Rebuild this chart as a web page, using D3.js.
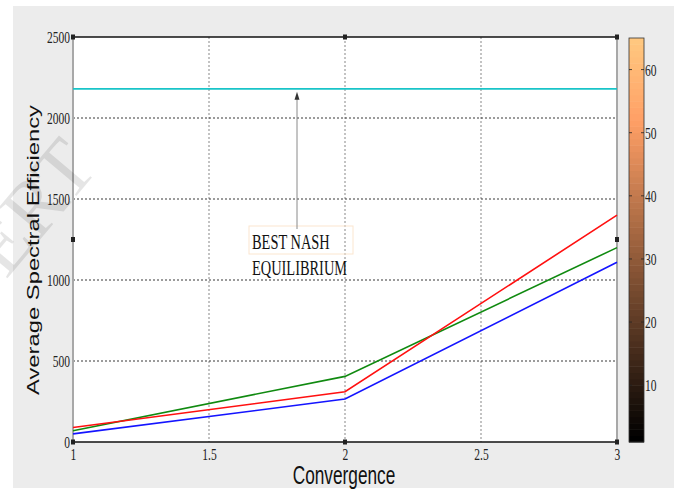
<!DOCTYPE html>
<html>
<head>
<meta charset="utf-8">
<script src="https://cdn.jsdelivr.net/npm/d3@7"></script>
<style>
  html, body { margin: 0; padding: 0; background: #ffffff; }
  svg { display: block; }
</style>
</head>
<body>
<svg id="chart" width="678" height="489"></svg>
<script>
// Convergence steps and average spectral efficiency per scheme
const convergence = [1, 2, 3];
const redSeries   = [90, 310, 1400];
const greenSeries = [70, 405, 1200];
const blueSeries  = [50, 265, 1110];
const nashLevel   = 2180;

const xTicks = [1, 1.5, 2, 2.5, 3];
const yTicks = [0, 500, 1000, 1500, 2000, 2500];
const colorbarTicks = [10, 20, 30, 40, 50, 60];

const svg = d3.select("#chart");
const plot = { left: 73, right: 617, top: 37, bottom: 442 };
const condense = 0.72;

// figure background
svg.append("rect").attr("x", 13).attr("y", 6).attr("width", 661).attr("height", 482)
  .attr("fill", "#ececec");

const x = d3.scaleLinear().domain([1, 3]).range([plot.left, plot.right]);
const y = d3.scaleLinear().domain([0, 2500]).range([plot.bottom, plot.top]);

// axes area
svg.append("rect").attr("x", plot.left).attr("y", plot.top)
  .attr("width", plot.right - plot.left).attr("height", plot.bottom - plot.top)
  .attr("fill", "#ffffff");

// grid
const grid = svg.append("g");
grid.selectAll("line.v").data(xTicks.filter(d => d > 1 && d < 3)).join("line")
  .attr("x1", d => x(d)).attr("x2", d => x(d))
  .attr("y1", plot.top).attr("y2", plot.bottom)
  .attr("stroke", "#b0b0b0").attr("stroke-width", 1.5).attr("stroke-dasharray", "2,2");
grid.selectAll("line.h").data(yTicks.filter(d => d > 0 && d < 2500)).join("line")
  .attr("x1", plot.left).attr("x2", plot.right)
  .attr("y1", d => y(d)).attr("y2", d => y(d))
  .attr("stroke", "#222").attr("stroke-width", 0.9).attr("stroke-dasharray", "2,2");

// axis frame
svg.append("line").attr("x1", plot.left).attr("x2", plot.right).attr("y1", plot.top).attr("y2", plot.top)
  .attr("stroke", "#111").attr("stroke-width", 1.5);
svg.append("line").attr("x1", plot.left).attr("x2", plot.right).attr("y1", plot.bottom).attr("y2", plot.bottom)
  .attr("stroke", "#111").attr("stroke-width", 1.5);
svg.append("line").attr("x1", plot.left).attr("x2", plot.left).attr("y1", plot.top).attr("y2", plot.bottom)
  .attr("stroke", "#a8a8a8").attr("stroke-width", 2);
svg.append("line").attr("x1", plot.right).attr("x2", plot.right).attr("y1", plot.top).attr("y2", plot.bottom)
  .attr("stroke", "#a8a8a8").attr("stroke-width", 2);

// tick labels via d3 axes
const serif = "Liberation Serif, Times New Roman, serif";
const yAxis = svg.append("g").attr("transform", `translate(${plot.left},0)`)
  .call(d3.axisLeft(y).tickValues(yTicks).tickSize(0).tickFormat(d3.format("d")));
yAxis.select(".domain").remove();
yAxis.selectAll("text")
  .attr("font-family", serif).attr("font-size", 16).attr("fill", "#222")
  .attr("x", -3 / condense).attr("dy", "0.33em")
  .attr("transform", `scale(${condense},1)`);

const xAxis = svg.append("g").attr("transform", `translate(0,${plot.bottom})`)
  .call(d3.axisBottom(x).tickValues(xTicks).tickSize(0).tickFormat(d3.format("")));
xAxis.select(".domain").remove();
xAxis.selectAll(".tick").each(function () {
  const t = d3.select(this);
  const px = +t.attr("transform").match(/translate\(([-\d.]+)/)[1];
  t.attr("transform", `translate(${px},0) scale(${condense},1)`);
});
xAxis.selectAll("text")
  .attr("font-family", serif).attr("font-size", 16).attr("fill", "#222")
  .attr("y", 18).attr("dy", 0);

// selection handles on the axes box
const handles = [
  [plot.left, plot.top], [x(2), plot.top], [plot.right, plot.top],
  [plot.left, (plot.top + plot.bottom) / 2], [plot.right, (plot.top + plot.bottom) / 2],
  [plot.left, plot.bottom], [x(2), plot.bottom], [plot.right, plot.bottom]
];
svg.selectAll("rect.handle").data(handles).join("rect")
  .attr("x", d => d[0] - 2).attr("y", d => d[1] - 2.5)
  .attr("width", 4).attr("height", 5).attr("fill", "#222");

// best Nash equilibrium level
svg.append("line")
  .attr("x1", x(1)).attr("x2", x(3)).attr("y1", y(nashLevel)).attr("y2", y(nashLevel))
  .attr("stroke", "#19c4c8").attr("stroke-width", 1.6);

// series lines
const line = d3.line().x((d, i) => x(convergence[i])).y(d => y(d));
[[greenSeries, "#108a10"], [redSeries, "#ff1010"], [blueSeries, "#1414ff"]].forEach(([s, c]) => {
  svg.append("path").datum(s).attr("d", line)
    .attr("fill", "none").attr("stroke", c).attr("stroke-width", 1.6);
});

// annotation with arrow
const arrowX = 297;
svg.append("rect").attr("x", 249).attr("y", 226).attr("width", 104).attr("height", 28)
  .attr("fill", "none").attr("stroke", "#fbe6cf").attr("stroke-width", 1);
svg.append("line").attr("x1", arrowX).attr("x2", arrowX).attr("y1", 229).attr("y2", y(nashLevel) + 8)
  .attr("stroke", "#8a8a8a").attr("stroke-width", 1);
svg.append("path")
  .attr("d", `M${arrowX},${y(nashLevel) + 3} L${arrowX - 2.5},${y(nashLevel) + 11} L${arrowX + 2.5},${y(nashLevel) + 11} Z`)
  .attr("fill", "#333");
const noteLines = ["BEST NASH", "EQUILIBRIUM"];
svg.selectAll("text.note").data(noteLines).join("text")
  .attr("transform", (d, i) => `translate(252,${249 + i * 26}) scale(0.72,1)`)
  .attr("font-family", serif).attr("font-size", 20).attr("fill", "#111")
  .text(d => d);

// axis titles
svg.append("text")
  .attr("transform", `translate(344,484) scale(0.69,1)`)
  .attr("text-anchor", "middle")
  .attr("font-family", "Liberation Sans, Arial, sans-serif").attr("font-size", 25).attr("fill", "#111")
  .text("Convergence");
svg.append("text")
  .attr("transform", `translate(39,250) scale(0.72,1) rotate(-90)`)
  .attr("text-anchor", "middle")
  .attr("font-family", "Liberation Sans, Arial, sans-serif").attr("font-size", 22).attr("fill", "#111")
  .attr("textLength", 290).attr("lengthAdjust", "spacingAndGlyphs")
  .text("Average Spectral Efficiency");

// copper colorbar
const cb = { x: 629, w: 15, top: 38, bottom: 442 };
const cy = d3.scaleLinear().domain([1, 65]).range([cb.bottom, cb.top]);
const copper = t => `rgb(${Math.round(255 * Math.min(1, 1.25 * t))},${Math.round(255 * 0.7812 * t)},${Math.round(255 * 0.4975 * t)})`;
const levels = d3.range(64);
svg.selectAll("rect.cb").data(levels).join("rect")
  .attr("x", cb.x).attr("width", cb.w)
  .attr("y", d => cy(d + 2)).attr("height", d => cy(d + 1) - cy(d + 2) + 0.5)
  .attr("fill", d => copper(d / 63));
svg.append("rect").attr("x", cb.x).attr("y", cb.top).attr("width", cb.w).attr("height", cb.bottom - cb.top)
  .attr("fill", "none").attr("stroke", "#333").attr("stroke-width", 0.8);
const cbTicks = svg.append("g");
cbTicks.selectAll("line.l").data(colorbarTicks).join("line")
  .attr("x1", cb.x).attr("x2", cb.x + 3).attr("y1", d => cy(d)).attr("y2", d => cy(d))
  .attr("stroke", "#222").attr("stroke-width", 0.8);
cbTicks.selectAll("line.r").data(colorbarTicks).join("line")
  .attr("x1", cb.x + cb.w - 3).attr("x2", cb.x + cb.w).attr("y1", d => cy(d)).attr("y2", d => cy(d))
  .attr("stroke", "#222").attr("stroke-width", 0.8);
cbTicks.selectAll("text").data(colorbarTicks).join("text")
  .attr("transform", d => `translate(${cb.x + cb.w + 1},${cy(d) + 6}) scale(${condense},1)`)
  .attr("font-family", serif).attr("font-size", 16).attr("fill", "#222")
  .text(d => d);

// faint publisher watermark over the left edge
svg.append("text")
  .attr("transform", "translate(100,168) rotate(-50)")
  .attr("text-anchor", "end")
  .attr("font-family", serif)
  .attr("font-size", 80)
  .attr("fill", "#000").attr("fill-opacity", 0.1)
  .text("IJERT");
</script>
</body>
</html>
